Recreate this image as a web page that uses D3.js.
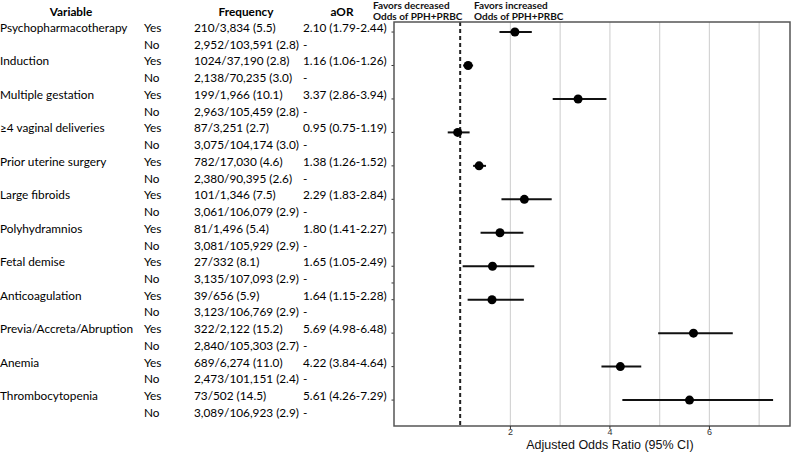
<!DOCTYPE html>
<html>
<head>
<meta charset="utf-8">
<script src="https://cdn.jsdelivr.net/npm/d3@7"></script>
<style>
  body { margin: 0; background: #fff; }
  svg { display: block; }
  .tbl { font-family: Lato, "Open Sans", sans-serif; font-size: 11.8px; fill: #000; }
  .hdr { font-weight: bold; }
  .fav { font-family: Lato, sans-serif; font-size: 10px; font-weight: bold; fill: #111; }
  .xaxis text { font-family: "Liberation Sans", Arial, sans-serif; font-size: 9px; fill: #333; }
</style>
</head>
<body>
<div id="chart"></div>
<script>
var svgWidth = 791;
var svgHeight = 452;

// data
var variables = ["Psychopharmacotherapy", "Induction", "Multiple gestation", "\u22654 vaginal deliveries",
  "Prior uterine surgery", "Large fibroids", "Polyhydramnios", "Fetal demise", "Anticoagulation",
  "Previa/Accreta/Abruption", "Anemia", "Thrombocytopenia"];
var yesFreq = ["210/3,834 (5.5)", "1024/37,190 (2.8)", "199/1,966 (10.1)", "87/3,251 (2.7)",
  "782/17,030 (4.6)", "101/1,346 (7.5)", "81/1,496 (5.4)", "27/332 (8.1)", "39/656 (5.9)",
  "322/2,122 (15.2)", "689/6,274 (11.0)", "73/502 (14.5)"];
var noFreq = ["2,952/103,591 (2.8)", "2,138/70,235 (3.0)", "2,963/105,459 (2.8)", "3,075/104,174 (3.0)",
  "2,380/90,395 (2.6)", "3,061/106,079 (2.9)", "3,081/105,929 (2.9)", "3,135/107,093 (2.9)",
  "3,123/106,769 (2.9)", "2,840/105,303 (2.7)", "2,473/101,151 (2.4)", "3,089/106,923 (2.9)"];
var aOR = [2.10, 1.16, 3.37, 0.95, 1.38, 2.29, 1.80, 1.65, 1.64, 5.69, 4.22, 5.61];
var ciLow = [1.79, 1.06, 2.86, 0.75, 1.26, 1.83, 1.41, 1.05, 1.15, 4.98, 3.84, 4.26];
var ciHigh = [2.44, 1.26, 3.94, 1.19, 1.52, 2.84, 2.27, 2.49, 2.28, 6.48, 4.64, 7.29];
var xTicks = [2, 4, 6];
var xGrid = [2, 3, 4, 5, 6, 7];

var panel = { left: 394, right: 790, top: 22, bottom: 426 };

var svg = d3.select("#chart").append("svg")
  .attr("width", svgWidth)
  .attr("height", svgHeight);

// row index: 2*i = Yes row, 2*i+1 = No row
var y = d3.scaleLinear().domain([-0.6, 23.55]).range([panel.top, panel.bottom]);
var x = d3.scaleLinear().domain([-0.33, 7.63]).range([panel.left, panel.right]);

// ---- table on the left ----
var tbl = svg.append("g").attr("class", "tbl");
var headers = [["Variable", 71], ["Frequency", 246], ["aOR", 342]];
tbl.selectAll("text.hdr").data(headers).enter().append("text")
  .attr("class", "hdr")
  .attr("x", d => d[1]).attr("y", 16)
  .attr("text-anchor", "middle")
  .text(d => d[0]);

var rowsG = tbl.selectAll("g.row").data(variables).enter().append("g").attr("class", "row");
rowsG.append("text").attr("x", 0).attr("y", (d, i) => y(2 * i)).text(d => d);
rowsG.append("text").attr("x", 144).attr("y", (d, i) => y(2 * i)).text("Yes");
rowsG.append("text").attr("x", 144).attr("y", (d, i) => y(2 * i + 1)).text("No");
rowsG.append("text").attr("x", 194).attr("y", (d, i) => y(2 * i)).text((d, i) => yesFreq[i]);
rowsG.append("text").attr("x", 194).attr("y", (d, i) => y(2 * i + 1)).text((d, i) => noFreq[i]);
rowsG.append("text").attr("x", 303).attr("y", (d, i) => y(2 * i))
  .text((d, i) => aOR[i].toFixed(2) + " (" + ciLow[i].toFixed(2) + "-" + ciHigh[i].toFixed(2) + ")");
rowsG.append("text").attr("x", 303).attr("y", (d, i) => y(2 * i + 1)).text("-");

// ---- forest plot ----
svg.append("g")
  .attr("transform", `translate(0, ${panel.bottom})`)
  .call(d3.axisBottom(x).tickValues(xGrid).tickSize(-(panel.bottom - panel.top)).tickFormat(""))
  .call(g => g.select(".domain").remove())
  .call(g => g.selectAll("line").attr("stroke", "#d4d4d4").attr("stroke-width", 1.2));

// reference line at 1
svg.append("line")
  .attr("x1", x(1)).attr("x2", x(1))
  .attr("y1", panel.top).attr("y2", panel.bottom)
  .attr("stroke", "#222").attr("stroke-width", 2)
  .attr("stroke-dasharray", "4,3");

// y ticks on the left edge
var tickRows = d3.range(12).map(i => 2 * i).concat([15]);
svg.selectAll("line.ytick").data(tickRows).enter().append("line")
  .attr("class", "ytick")
  .attr("x1", panel.left - 2.5).attr("x2", panel.left)
  .attr("y1", d => y(d)).attr("y2", d => y(d))
  .attr("stroke", "#333").attr("stroke-width", 1);

// CIs and points
var marks = svg.append("g");
marks.selectAll("line.ci").data(aOR).enter().append("line")
  .attr("class", "ci")
  .attr("x1", (d, i) => x(ciLow[i])).attr("x2", (d, i) => x(ciHigh[i]))
  .attr("y1", (d, i) => y(2 * i)).attr("y2", (d, i) => y(2 * i))
  .attr("stroke", "#111").attr("stroke-width", 2);
marks.selectAll("circle").data(aOR).enter().append("circle")
  .attr("cx", d => x(d))
  .attr("cy", (d, i) => y(2 * i))
  .attr("r", 4.5)
  .attr("fill", "#000");

// panel border
svg.append("rect")
  .attr("x", panel.left).attr("y", panel.top)
  .attr("width", panel.right - panel.left).attr("height", panel.bottom - panel.top)
  .attr("fill", "none").attr("stroke", "#555").attr("stroke-width", 1.5);

// x axis
var xAxis = svg.append("g")
  .attr("class", "xaxis")
  .attr("transform", `translate(0, ${panel.bottom})`)
  .call(d3.axisBottom(x).tickValues(xTicks).tickSize(3).tickFormat(d3.format("d")));
xAxis.select(".domain").remove();
xAxis.selectAll("line").attr("stroke", "#333");
xAxis.selectAll("text").attr("dy", "0.55em").attr("y", 4);

svg.append("text")
  .attr("x", 610).attr("y", 449)
  .attr("text-anchor", "middle")
  .style("font-family", "'Liberation Sans', Arial, sans-serif")
  .style("font-size", "12.5px")
  .attr("fill", "#111")
  .text("Adjusted Odds Ratio (95% CI)");

// favors annotations
var fav = svg.append("g").attr("class", "fav");
fav.append("text").attr("x", 373).attr("y", 8.5).text("Favors decreased");
fav.append("text").attr("x", 373).attr("y", 19.5).text("Odds of PPH+PRBC");
fav.append("text").attr("x", 474).attr("y", 8.5).text("Favors increased");
fav.append("text").attr("x", 474).attr("y", 19.5).text("Odds of PPH+PRBC");
</script>
</body>
</html>
